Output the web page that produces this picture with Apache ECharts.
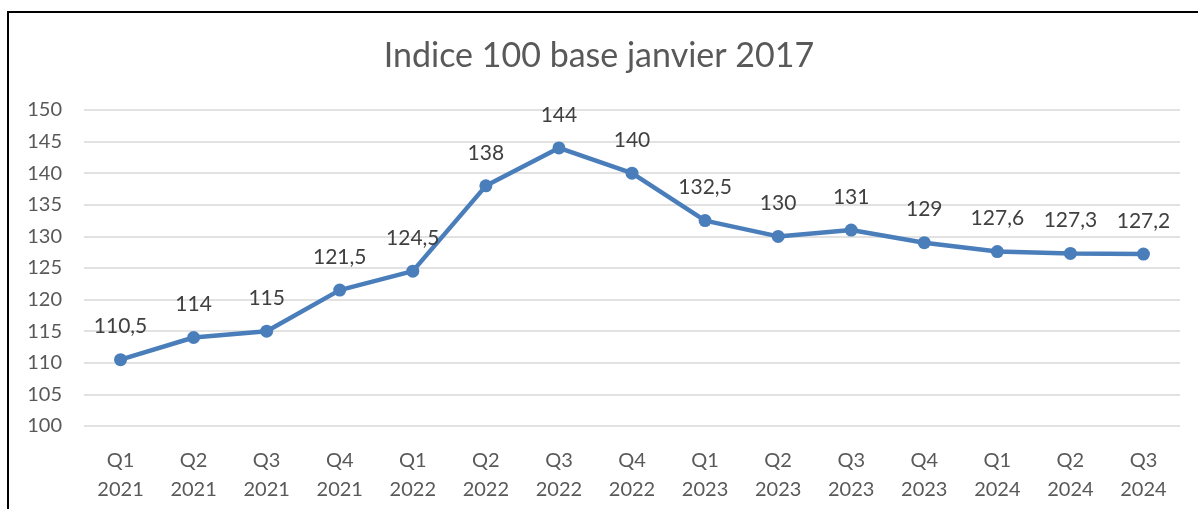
<!DOCTYPE html>
<html>
<head>
<meta charset="utf-8">
<script src="https://cdn.jsdelivr.net/npm/echarts@6/dist/echarts.min.js"></script>
<style>
  html, body { margin: 0; padding: 0; background: #fff; }
  #chart { width: 1198px; height: 509px; }
  #frame { position: absolute; left: 7px; top: 11px; width: 1200px; height: 510px;
           border-left: 2px solid #000; border-top: 2px solid #000; pointer-events: none; }
</style>
</head>
<body>
<div id="chart"></div>
<div id="frame"></div>
<script>
  // trimestres et valeurs de l'indice
  var quarters = ['Q1', 'Q2', 'Q3', 'Q4', 'Q1', 'Q2', 'Q3', 'Q4', 'Q1', 'Q2', 'Q3', 'Q4', 'Q1', 'Q2', 'Q3'];
  var years = ['2021', '2021', '2021', '2021', '2022', '2022', '2022', '2022', '2023', '2023', '2023', '2023', '2024', '2024', '2024'];
  var indexValues = [110.5, 114, 115, 121.5, 124.5, 138, 144, 140, 132.5, 130, 131, 129, 127.6, 127.3, 127.2];

  var categories = quarters.map(function (q, i) { return q + '\n' + years[i]; });

  var chart = echarts.init(document.getElementById('chart'));
  chart.setOption({
    textStyle: { fontFamily: 'Lato, "Open Sans", sans-serif' },
    title: {
      text: 'Indice 100 base janvier 2017',
      left: 'center',
      top: 34,
      textStyle: { fontSize: 34, fontWeight: 'normal', color: '#595959', fontFamily: 'Lato, "Open Sans", sans-serif' }
    },
    grid: { left: 84, right: 18, top: 110, bottom: 83 },
    xAxis: {
      type: 'category',
      data: categories,
      boundaryGap: true,
      axisLine: { show: false },
      axisTick: { show: false },
      axisLabel: { color: '#595959', fontSize: 20, lineHeight: 29, margin: 20 }
    },
    yAxis: {
      type: 'value',
      min: 100,
      max: 150,
      interval: 5,
      axisLine: { show: false },
      axisTick: { show: false },
      axisLabel: { color: '#595959', fontSize: 20, margin: 22 },
      splitLine: { lineStyle: { color: '#d9d9d9', width: 1.5 } }
    },
    series: [{
      type: 'line',
      data: indexValues,
      symbol: 'circle',
      symbolSize: 13,
      lineStyle: { color: '#4a7ebb', width: 4.5 },
      itemStyle: { color: '#4a7ebb' },
      label: {
        show: true,
        position: 'top',
        distance: 16,
        fontSize: 21,
        color: '#404040',
        formatter: function (p) { return String(p.value).replace('.', ','); }
      }
    }]
  });
</script>
</body>
</html>
